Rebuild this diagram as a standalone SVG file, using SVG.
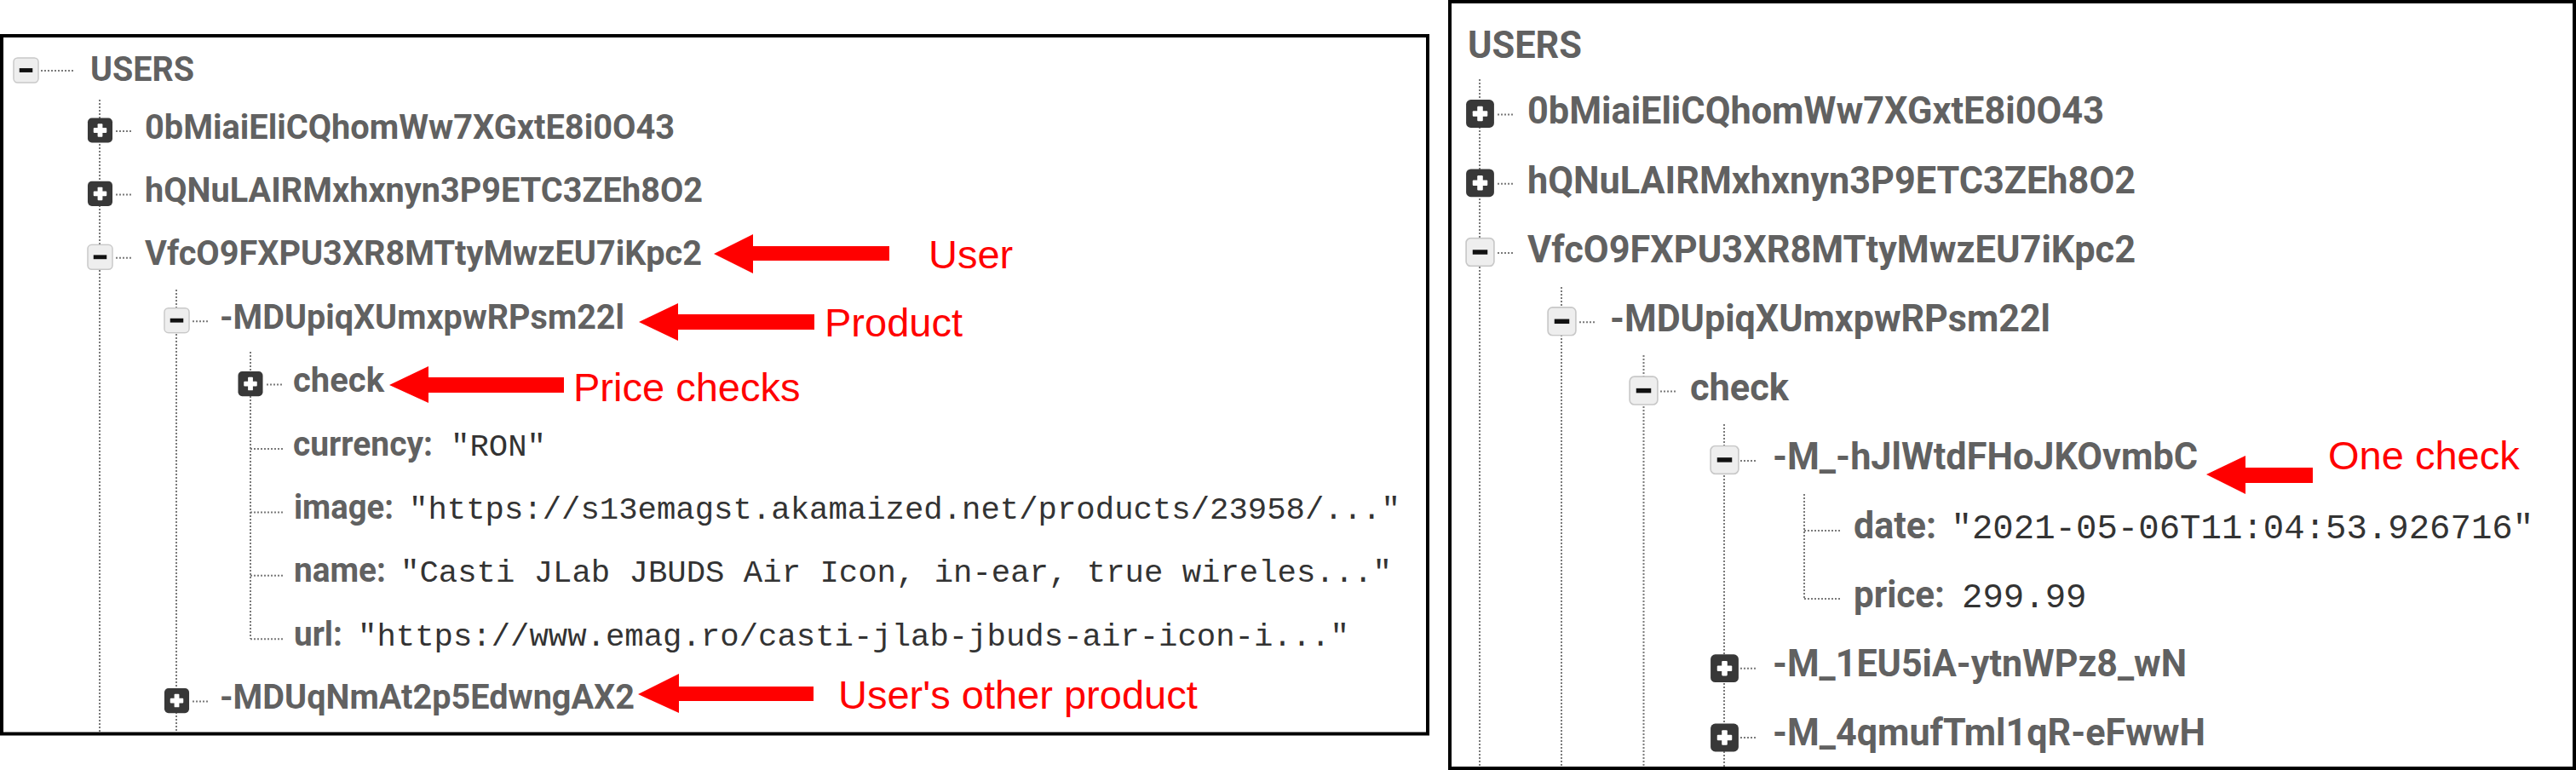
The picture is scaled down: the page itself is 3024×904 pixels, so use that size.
<svg xmlns="http://www.w3.org/2000/svg" xmlns:xlink="http://www.w3.org/1999/xlink" width="3024" height="904" viewBox="0 0 3024 904">
<style>
.k{font-family:Roboto,"Liberation Sans",sans-serif;font-weight:bold;fill:#616161}
.kl{font-size:40px}
.kr{font-size:44px}
.v{font-family:"Liberation Mono","DejaVu Sans Mono",monospace;fill:#333}
.vl{font-size:37.3px}
.vr{font-size:40.7px}
.ann{font-family:"Liberation Sans",Arial,sans-serif;font-size:47px;fill:#ff0000}
.dl{stroke:#7a7a7a;stroke-width:2;stroke-dasharray:2 2;fill:none}
.arrow{fill:#ff0000}
.frame{fill:none;stroke:#000;stroke-width:4}
</style>
<defs>
<symbol id="minus" viewBox="0 0 32 32">
<rect x="1" y="1" width="30" height="30" rx="5" fill="#eeeeee" stroke="#c8c8c8" stroke-width="1.5"/>
<rect x="8" y="13.5" width="16" height="5" fill="#111"/>
</symbol>
<symbol id="plus" viewBox="0 0 32 32">
<rect x="1" y="1" width="30" height="30" rx="5" fill="#383838"/>
<rect x="8" y="13" width="16" height="6" rx="1" fill="#fff"/>
<rect x="13" y="8" width="6" height="16" rx="1" fill="#fff"/>
</symbol>
</defs>
<rect width="3024" height="904" fill="#fff"/>

<g id="connectors">
<!-- left panel tree lines -->
<line class="dl" x1="117" y1="117" x2="117" y2="859"/>
<line class="dl" x1="207" y1="340" x2="207" y2="859"/>
<line class="dl" x1="294" y1="413" x2="294" y2="750"/>
<line class="dl" x1="48" y1="83" x2="88" y2="83"/>
<line class="dl" x1="136" y1="154" x2="155" y2="154"/>
<line class="dl" x1="136" y1="228.4" x2="155" y2="228.4"/>
<line class="dl" x1="136" y1="302.8" x2="155" y2="302.8"/>
<line class="dl" x1="226" y1="377.2" x2="245" y2="377.2"/>
<line class="dl" x1="313" y1="451.6" x2="332" y2="451.6"/>
<line class="dl" x1="294" y1="527" x2="332" y2="527"/>
<line class="dl" x1="294" y1="601.4" x2="332" y2="601.4"/>
<line class="dl" x1="294" y1="675.8" x2="332" y2="675.8"/>
<line class="dl" x1="294" y1="750.2" x2="332" y2="750.2"/>
<line class="dl" x1="226" y1="823.6" x2="245" y2="823.6"/>
<!-- right panel tree lines -->
<line class="dl" x1="1737" y1="93" x2="1737" y2="900"/>
<line class="dl" x1="1833" y1="337" x2="1833" y2="900"/>
<line class="dl" x1="1929.5" y1="417" x2="1929.5" y2="900"/>
<line class="dl" x1="2024" y1="498" x2="2024" y2="900"/>
<line class="dl" x1="2118" y1="580" x2="2118" y2="703"/>
<line class="dl" x1="1758" y1="134.5" x2="1778" y2="134.5"/>
<line class="dl" x1="1758" y1="215.8" x2="1778" y2="215.8"/>
<line class="dl" x1="1758" y1="297" x2="1778" y2="297"/>
<line class="dl" x1="1854" y1="378.3" x2="1874" y2="378.3"/>
<line class="dl" x1="1949" y1="459.6" x2="1969" y2="459.6"/>
<line class="dl" x1="2043" y1="540.9" x2="2063" y2="540.9"/>
<line class="dl" x1="2118" y1="623" x2="2162" y2="623"/>
<line class="dl" x1="2118" y1="703" x2="2162" y2="703"/>
<line class="dl" x1="2043" y1="784.7" x2="2063" y2="784.7"/>
<line class="dl" x1="2043" y1="866" x2="2063" y2="866"/>
</g>

<g id="left-panel">
<rect class="frame" x="2" y="42" width="1674" height="819.5"/>
</g>
<g id="right-panel">
<rect class="frame" x="1702" y="2" width="1320" height="900"/>
</g>

<!-- left tree nodes -->
<g id="l-users">
<use xlink:href="#minus" href="#minus" x="15" y="67" width="31" height="31"/>
<text class="k kl" x="106" y="95" textLength="122" lengthAdjust="spacingAndGlyphs">USERS</text>
</g>
<g id="l-user1">
<use href="#plus" xlink:href="#plus" x="102" y="137.5" width="31" height="31"/>
<text class="k kl" x="170" y="162.5" textLength="622" lengthAdjust="spacingAndGlyphs">0bMiaiEliCQhomWw7XGxtE8i0O43</text>
</g>
<g id="l-user2">
<use href="#plus" xlink:href="#plus" x="102" y="211.9" width="31" height="31"/>
<text class="k kl" x="170" y="236.9" textLength="655" lengthAdjust="spacingAndGlyphs">hQNuLAIRMxhxnyn3P9ETC3ZEh8O2</text>
</g>
<g id="l-user3">
<use href="#minus" xlink:href="#minus" x="102" y="286.3" width="31" height="31"/>
<text class="k kl" x="170" y="311.3" textLength="654" lengthAdjust="spacingAndGlyphs">VfcO9FXPU3XR8MTtyMwzEU7iKpc2</text>
</g>
<g id="l-product1">
<use href="#minus" xlink:href="#minus" x="192" y="360.7" width="31" height="31"/>
<text class="k kl" x="258" y="385.7" textLength="475" lengthAdjust="spacingAndGlyphs">-MDUpiqXUmxpwRPsm22l</text>
</g>
<g id="l-check">
<use href="#plus" xlink:href="#plus" x="278.5" y="435.1" width="31" height="31"/>
<text class="k kl" x="344" y="460.1" textLength="107" lengthAdjust="spacingAndGlyphs">check</text>
</g>
<g id="l-currency">
<text class="k kl" x="344" y="534.5" textLength="164" lengthAdjust="spacingAndGlyphs">currency:</text>
<text class="v vl" x="529" y="534.5">"RON"</text>
</g>
<g id="l-image">
<text class="k kl" x="345" y="608.9" textLength="117" lengthAdjust="spacingAndGlyphs">image:</text>
<text class="v vl" x="480" y="608.9">"https://s13emagst.akamaized.net/products/23958/..."</text>
</g>
<g id="l-name">
<text class="k kl" x="345" y="683.3" textLength="108" lengthAdjust="spacingAndGlyphs">name:</text>
<text class="v vl" x="470" y="683.3">"Casti JLab JBUDS Air Icon, in-ear, true wireles..."</text>
</g>
<g id="l-url">
<text class="k kl" x="345" y="757.7" textLength="57" lengthAdjust="spacingAndGlyphs">url:</text>
<text class="v vl" x="420" y="757.7">"https://www.emag.ro/casti-jlab-jbuds-air-icon-i..."</text>
</g>
<g id="l-product2">
<use href="#plus" xlink:href="#plus" x="192" y="807.1" width="31" height="31"/>
<text class="k kl" x="258" y="832.1" textLength="487" lengthAdjust="spacingAndGlyphs">-MDUqNmAt2p5EdwngAX2</text>
</g>

<!-- right tree nodes -->
<g id="r-users">
<text class="k kr" x="1723" y="68" textLength="134" lengthAdjust="spacingAndGlyphs">USERS</text>
</g>
<g id="r-user1">
<use href="#plus" xlink:href="#plus" x="1720" y="116" width="35" height="35"/>
<text class="k kr" x="1793" y="145" textLength="677" lengthAdjust="spacingAndGlyphs">0bMiaiEliCQhomWw7XGxtE8i0O43</text>
</g>
<g id="r-user2">
<use href="#plus" xlink:href="#plus" x="1720" y="197.3" width="35" height="35"/>
<text class="k kr" x="1793" y="226.5" textLength="714" lengthAdjust="spacingAndGlyphs">hQNuLAIRMxhxnyn3P9ETC3ZEh8O2</text>
</g>
<g id="r-user3">
<use href="#minus" xlink:href="#minus" x="1720" y="278.5" width="35" height="35"/>
<text class="k kr" x="1793" y="307.5" textLength="714" lengthAdjust="spacingAndGlyphs">VfcO9FXPU3XR8MTtyMwzEU7iKpc2</text>
</g>
<g id="r-product1">
<use href="#minus" xlink:href="#minus" x="1816" y="359.8" width="35" height="35"/>
<text class="k kr" x="1890" y="388.5" textLength="517" lengthAdjust="spacingAndGlyphs">-MDUpiqXUmxpwRPsm22l</text>
</g>
<g id="r-check">
<use href="#minus" xlink:href="#minus" x="1912" y="441.1" width="35" height="35"/>
<text class="k kr" x="1984" y="470" textLength="116" lengthAdjust="spacingAndGlyphs">check</text>
</g>
<g id="r-check1">
<use href="#minus" xlink:href="#minus" x="2007" y="522.4" width="35" height="35"/>
<text class="k kr" x="2081" y="550.5" textLength="499" lengthAdjust="spacingAndGlyphs">-M_-hJlWtdFHoJKOvmbC</text>
</g>
<g id="r-date">
<text class="k kr" x="2176" y="632" textLength="97" lengthAdjust="spacingAndGlyphs">date:</text>
<text class="v vr" x="2290.5" y="632">"2021-05-06T11:04:53.926716"</text>
</g>
<g id="r-price">
<text class="k kr" x="2176" y="713" textLength="107" lengthAdjust="spacingAndGlyphs">price:</text>
<text class="v vr" x="2303" y="713">299.99</text>
</g>
<g id="r-check2">
<use href="#plus" xlink:href="#plus" x="2007" y="767.2" width="35" height="35"/>
<text class="k kr" x="2081" y="794" textLength="486" lengthAdjust="spacingAndGlyphs">-M_1EU5iA-ytnWPz8_wN</text>
</g>
<g id="r-check3">
<use href="#plus" xlink:href="#plus" x="2007" y="848.5" width="35" height="35"/>
<text class="k kr" x="2081" y="875" textLength="508" lengthAdjust="spacingAndGlyphs">-M_4qmufTml1qR-eFwwH</text>
</g>

<g id="annotations">
<polygon class="arrow" points="838,298 884,275 884,289 1044,289 1044,306 884,306 884,321"/>
<polygon class="arrow" points="750,378 796,356 796,369 956,369 956,387 796,387 796,400"/>
<polygon class="arrow" points="457,452 503,430 503,443 662,443 662,461 503,461 503,473"/>
<polygon class="arrow" points="749,815 797,791 797,806 955,806 955,823 797,823 797,837"/>
<polygon class="arrow" points="2590,557 2636,535 2636,549 2715,549 2715,567 2636,567 2636,580"/>
<text class="ann" x="1090" y="315">User</text>
<text class="ann" x="968" y="395">Product</text>
<text class="ann" x="673" y="471">Price checks</text>
<text class="ann" x="984" y="832">User's other product</text>
<text class="ann" x="2733" y="551">One check</text>
</g>
</svg>
